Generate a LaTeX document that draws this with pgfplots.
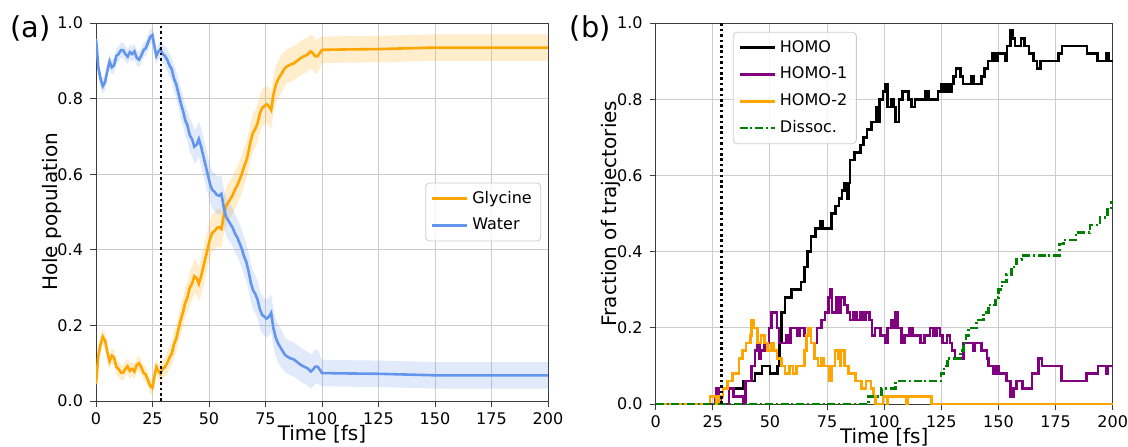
\documentclass[border=0pt]{standalone}
\usepackage{fontspec}
\setmainfont{DejaVu Sans}
\usepackage{pgfplots}
\pgfplotsset{compat=1.18}
\usepackage{pgfplotstable}
\usepgfplotslibrary{fillbetween}

\definecolor{mplorange}{RGB}{255,165,0}
\definecolor{cfblue}{RGB}{100,149,237}
\definecolor{mplpurple}{RGB}{128,0,128}
\definecolor{mplgreen}{RGB}{0,128,0}
\definecolor{gridgray}{RGB}{205,205,205}
\definecolor{spine}{RGB}{60,60,60}

\pgfplotstableread{
t g e w
0 0.045 0.015 0.958
0.5 0.08 0.02 0.923
1 0.12 0.02 0.883
2 0.15 0.02 0.853
3 0.17 0.02 0.833
4 0.16 0.02 0.843
5 0.13 0.02 0.873
6 0.105 0.02 0.898
7 0.12 0.02 0.883
8 0.115 0.02 0.888
9 0.09 0.02 0.913
10 0.085 0.02 0.918
11 0.075 0.02 0.928
12 0.075 0.02 0.928
13 0.085 0.02 0.918
14 0.092 0.02 0.911
15 0.08 0.02 0.923
16 0.085 0.02 0.918
17 0.078 0.02 0.925
18 0.095 0.02 0.908
19 0.1 0.02 0.903
20 0.09 0.02 0.913
21 0.075 0.02 0.928
22 0.07 0.02 0.933
23 0.055 0.02 0.948
24 0.04 0.02 0.963
25 0.035 0.02 0.968
26 0.07 0.02 0.933
26.7 0.09 0.02 0.913
27.5 0.08 0.02 0.923
28.5 0.072 0.025 0.931
29.5 0.085 0.025 0.918
30.5 0.09 0.025 0.913
31.5 0.1 0.03 0.903
32.5 0.115 0.03 0.888
33.5 0.125 0.03 0.878
34.5 0.15 0.035 0.853
35.5 0.165 0.035 0.838
36.5 0.19 0.035 0.813
37.5 0.215 0.04 0.788
38.5 0.235 0.04 0.768
39.5 0.26 0.04 0.743
40.5 0.275 0.04 0.728
41.5 0.3 0.045 0.703
42.5 0.31 0.045 0.693
43.5 0.33 0.045 0.673
44.5 0.325 0.045 0.678
45.5 0.31 0.045 0.693
46.5 0.33 0.05 0.673
47.5 0.355 0.05 0.648
48.5 0.38 0.05 0.623
49.5 0.405 0.05 0.598
50.5 0.43 0.05 0.573
51.5 0.445 0.05 0.558
52.5 0.45 0.05 0.553
53.5 0.458 0.05 0.545
54.5 0.46 0.05 0.543
55.5 0.455 0.05 0.548
56.5 0.49 0.05 0.513
57.5 0.515 0.05 0.488
58.5 0.525 0.05 0.478
59.5 0.535 0.05 0.468
60.5 0.545 0.05 0.458
61.5 0.56 0.05 0.443
62.5 0.57 0.05 0.433
63.5 0.585 0.05 0.418
64.5 0.6 0.05 0.403
65.5 0.62 0.05 0.383
66.5 0.635 0.05 0.368
67.5 0.66 0.05 0.343
68.5 0.69 0.05 0.313
69.5 0.71 0.05 0.293
70.5 0.72 0.05 0.283
71.5 0.735 0.05 0.268
72.5 0.76 0.05 0.243
73.5 0.775 0.05 0.228
74.5 0.78 0.05 0.223
75.5 0.785 0.05 0.218
76.5 0.78 0.05 0.223
77.5 0.77 0.05 0.233
78.5 0.81 0.05 0.193
79.5 0.835 0.05 0.168
80.5 0.85 0.05 0.153
81.5 0.86 0.05 0.143
82.5 0.87 0.05 0.133
83.5 0.88 0.045 0.123
84.5 0.885 0.045 0.118
86 0.89 0.045 0.113
87.5 0.893 0.045 0.11
89 0.9 0.045 0.103
90.5 0.907 0.045 0.096
92 0.912 0.045 0.091
93.5 0.916 0.045 0.087
95 0.925 0.045 0.078
96 0.92 0.045 0.083
97 0.912 0.045 0.091
98 0.912 0.045 0.091
99 0.92 0.04 0.083
100 0.929 0.035 0.074
110 0.93 0.035 0.073
125 0.931 0.035 0.072
150 0.935 0.035 0.068
175 0.935 0.035 0.068
200 0.935 0.035 0.068
}\popdata

\pgfplotsset{
  mystyle/.style={
    scale only axis,
    xmin=0, xmax=200, ymin=0, ymax=1,
    xtick={0,25,...,200},
    ytick={0,0.2,0.4,0.6,0.8,1},
    yticklabel style={/pgf/number format/fixed, /pgf/number format/fixed zerofill, /pgf/number format/precision=1},
    xticklabel style={inner sep=1pt, yshift=-1.67pt},
    /pgf/number format/assume math mode=true,
    tick label style={font=\fontsize{8}{9.6}\selectfont},
    label style={font=\fontsize{8}{9.6}\selectfont, inner sep=1pt},
    grid=major,
    major grid style={gridgray, line width=0.5pt},
    axis line style={spine, line width=0.5pt},
    tick style={spine, line width=0.5pt},
    tick align=outside,
    tick pos=left,
    major tick length=3pt,
    xlabel={Time [fs]},
    legend cell align=left,
    legend image code/.code={\draw[##1] (0pt,0pt) -- (17.5pt,0pt);},
    legend style={draw=black!20, rounded corners=2pt, fill=white, fill opacity=0.8, text opacity=1,
      font=\fontsize{8}{9.6}\selectfont, row sep=1.8pt, inner xsep=2.5pt, inner ysep=2pt,
      nodes={inner sep=2pt, text height=6pt, text depth=1.6pt}},
  }
}

\begin{document}
\begin{tikzpicture}

\begin{axis}[mystyle, at={(48pt,22.5pt)}, anchor=south west, width=226pt, height=189pt,
  ylabel={Hole population},
  every axis y label/.style={at={(axis description cs:-0.0973,0.5)}, anchor=center, rotate=90},
  every axis x label/.style={at={(axis description cs:0.5,-0.0886)}, anchor=center},
  legend style={at={(0.985,0.5)}, anchor=east}]
  \addplot[draw=none, name path=gu, forget plot] table[x=t, y expr=\thisrow{g}+\thisrow{e}] {\popdata};
  \addplot[draw=none, name path=gl, forget plot] table[x=t, y expr=\thisrow{g}-\thisrow{e}] {\popdata};
  \addplot[fill=mplorange, fill opacity=0.2, draw=none, forget plot] fill between[of=gu and gl];
  \addplot[draw=none, name path=wu, forget plot] table[x=t, y expr=\thisrow{w}+\thisrow{e}] {\popdata};
  \addplot[draw=none, name path=wl, forget plot] table[x=t, y expr=\thisrow{w}-\thisrow{e}] {\popdata};
  \addplot[fill=cfblue, fill opacity=0.2, draw=none, forget plot] fill between[of=wu and wl];
  \addplot[mplorange, line width=1.3pt] table[x=t, y=g] {\popdata};
  \addlegendentry{Glycine}
  \addplot[cfblue, line width=1.3pt] table[x=t, y=w] {\popdata};
  \addlegendentry{Water}
  \addplot[black, line width=1.3pt, dash pattern=on 1.3pt off 1.4pt, forget plot] coordinates {(28.7,0) (28.7,1)};
\end{axis}

\begin{axis}[mystyle, at={(327.85pt,21pt)}, anchor=south west, width=228.5pt, height=190.5pt,
  clip=false,
  ylabel={Fraction of trajectories},
  every axis y label/.style={at={(axis description cs:-0.0978,0.5)}, anchor=center, rotate=90},
  every axis x label/.style={at={(axis description cs:0.5,-0.0879)}, anchor=center, inner sep=0.5pt},
  legend style={at={(0.169,0.977)}, anchor=north west}]
  \addplot[black, line width=1.3pt, const plot] coordinates {
    (0,0) (31.5,0) (32,0.04) (38.5,0.06) (43.5,0.08) (46.5,0.10) (50,0.08) (53.2,0.10)
    (54.2,0.16) (55,0.24) (56.5,0.28) (59.5,0.30) (63.5,0.32) (65,0.36) (66.5,0.40)
    (68,0.44) (70,0.46) (72,0.48) (73,0.46) (76,0.46) (76.8,0.50) (78.8,0.52) (80.3,0.54)
    (81.5,0.56) (82.5,0.58) (83.8,0.54) (84.3,0.58) (85,0.64) (87,0.66) (89.5,0.68)
    (91,0.70) (92.5,0.72) (94.5,0.74) (96.5,0.78) (97.1,0.74) (98,0.80) (99.5,0.82)
    (100.5,0.84) (101.5,0.78) (103,0.80) (104,0.78) (105,0.74) (106.5,0.80) (108,0.82)
    (110.5,0.80) (112,0.78) (113.5,0.80) (118,0.82) (119.5,0.80) (123.5,0.82) (125,0.84)
    (126.3,0.82) (127.3,0.84) (128.3,0.82) (129.5,0.84) (130.3,0.86) (131.5,0.88)
    (133.5,0.86) (134.5,0.84) (138.3,0.86) (139,0.84) (142.5,0.86) (144,0.88) (145.5,0.90)
    (147.5,0.92) (148.3,0.90) (149.5,0.92) (153,0.90) (153.8,0.94) (155.3,0.98)
    (156.3,0.96) (157.3,0.94) (159.8,0.96) (161.3,0.94) (163.3,0.92) (165.3,0.90)
    (166.8,0.88) (168.3,0.90) (176.3,0.92) (177.8,0.94) (188.8,0.92) (193.3,0.90)
    (197.3,0.92) (198.1,0.90) (200,0.90)};
  \addlegendentry{HOMO}
  \addplot[mplpurple, line width=1.3pt, const plot] coordinates {
    (0,0) (25.5,0) (26,0.02) (26.5,0.04) (27.5,0.02) (28.5,0) (31.5,0) (32,0.04) (34,0.02)
    (38.5,0) (39.3,0.06) (42,0.10) (43.5,0.14) (44.5,0.16) (45.3,0.12) (46,0.14) (47.5,0.16)
    (49.5,0.20) (50.8,0.24) (53,0.20) (54,0.16) (57,0.18) (58,0.16) (59,0.20) (62,0.18)
    (63,0.20) (65,0.18) (67,0.20) (68,0.16) (70.5,0.20) (72.5,0.22) (74,0.24) (75.5,0.28)
    (76.5,0.30) (77.2,0.24) (79,0.28) (80,0.24) (81,0.28) (82.5,0.26) (84,0.24) (85,0.22)
    (86.5,0.24) (88,0.22) (89.5,0.24) (90.9,0.22) (92,0.24) (93.5,0.22) (94.6,0.18)
    (96,0.20) (98.5,0.18) (100.3,0.16) (101.5,0.20) (103,0.22) (104,0.20) (105,0.24)
    (106,0.20) (107.5,0.16) (109,0.18) (111,0.20) (112.5,0.18) (116,0.16) (117.5,0.18)
    (120,0.20) (121.5,0.18) (123,0.20) (124.5,0.18) (125.5,0.16) (127.5,0.18) (128.8,0.16)
    (129.6,0.14) (131,0.12) (134.7,0.16) (139,0.14) (139.8,0.16) (142.5,0.14) (144.9,0.12)
    (145.6,0.10) (147.8,0.08) (148.6,0.10) (150,0.08) (153.6,0.06) (155.3,0.02) (156.6,0.04)
    (158,0.06) (160.5,0.04) (164.6,0.08) (167.5,0.12) (169,0.10) (177.7,0.06) (188.6,0.08)
    (193.6,0.10) (197.4,0.08) (198,0.10) (200,0.10)};
  \addlegendentry{HOMO-1}
  \addplot[mplorange, line width=1.3pt, const plot] coordinates {
    (0,0) (23.8,0.02) (26.5,0) (28,0.02) (29.5,0.04) (31.5,0.06) (33.5,0.08) (36.5,0.12)
    (38,0.14) (39.5,0.16) (41.5,0.18) (42,0.22) (43,0.20) (44.5,0.16) (46,0.18) (47.5,0.16)
    (49,0.14) (50.5,0.16) (51.5,0.14) (53,0.12) (55,0.10) (56.5,0.08) (58.5,0.10) (60,0.08)
    (61.5,0.10) (65,0.14) (66,0.18) (66.8,0.20) (68,0.16) (69.5,0.12) (71,0.10) (72.5,0.12)
    (73.5,0.10) (76,0.06) (77,0.10) (78.5,0.14) (80,0.12) (80.7,0.10) (81,0.14) (82.5,0.10)
    (84.5,0.08) (87.5,0.06) (90,0.04) (92,0.06) (94.3,0.04) (95.3,0.02) (96.3,0) (99.5,0.02)
    (101.2,0) (101.7,0.02) (109.7,0) (110.2,0.02) (120.8,0) (200,0)};
  \addlegendentry{HOMO-2}
  \addplot[mplgreen, line width=1.3pt, const plot, dash pattern=on 4pt off 1.4pt on 1pt off 1.4pt] coordinates {
    (0,0) (93,0.02) (98.8,0.04) (105,0.06) (124.8,0.08) (126.2,0.10) (127.6,0.12)
    (133.5,0.14) (134.8,0.16) (135.8,0.18) (136.8,0.20) (140.4,0.22) (143.5,0.24)
    (145.6,0.26) (148.6,0.28) (150,0.30) (151.5,0.32) (153.5,0.34) (155.8,0.36)
    (157.8,0.38) (160.2,0.39) (176.8,0.42) (178.5,0.43) (184,0.45) (190,0.47)
    (194.5,0.49) (197.8,0.51) (199.3,0.53) (200,0.53)};
  \addlegendentry{Dissoc.}
  \addplot[black, line width=1.3pt, dash pattern=on 1.3pt off 1.4pt, forget plot] coordinates {(28.7,0) (28.7,1)};
\end{axis}

\node[anchor=base west, inner sep=0, font=\fontsize{14.4}{17}\selectfont] at (5pt,204.4pt) {(a)};
\node[anchor=base west, inner sep=0, font=\fontsize{14.4}{17}\selectfont] at (284.7pt,204.4pt) {(b)};
\pgfresetboundingbox
\path[use as bounding box] (0,0) rectangle (564pt,223pt);
\end{tikzpicture}
\end{document}
